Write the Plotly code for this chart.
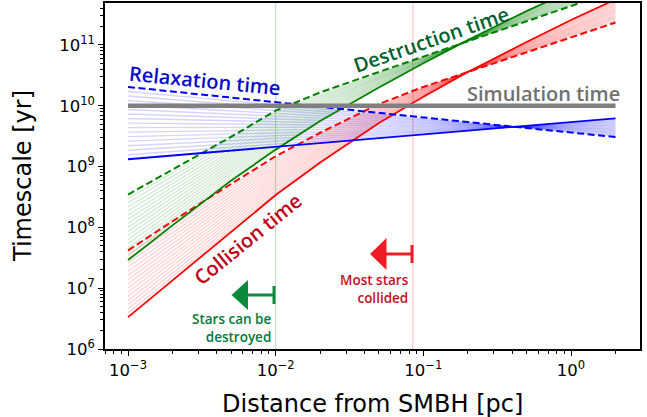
import plotly.graph_objects as go

# ---------------- data ----------------
distance_pc = [0.001, 0.002, 0.005, 0.01, 0.02, 0.05, 0.1, 0.2, 0.5, 1.0, 2.0]

relax_solid = [1.32e9, 1.52e9, 1.83e9, 2.11e9, 2.43e9, 2.93e9, 3.37e9, 3.88e9, 4.69e9, 5.40e9, 6.21e9]
relax_dashed = [2.04e10, 1.72e10, 1.37e10, 1.15e10, 9.7e9, 7.7e9, 6.5e9, 5.4e9, 4.3e9, 3.6e9, 3.06e9]

destr_solid = [2.9e7, 1.08e8, 5.9e8, 1.9e9, 5.6e9, 2.0e10, 5.0e10, 1.2e11, 3.6e11, 8.0e11, 1.7e12]
destr_dashed = [3.47e8, 8.9e8, 3.1e9, 8.3e9, 1.66e10, 3.6e10, 6.5e10, 1.15e11, 2.45e11, 4.4e11, 7.8e11]

coll_solid = [3.35e6, 1.34e7, 8.4e7, 3.4e8, 1.17e9, 5.2e9, 1.41e10, 3.6e10, 1.12e11, 2.57e11, 5.6e11]
coll_dashed = [4.2e7, 1.26e8, 5.2e8, 1.48e9, 3.6e9, 1.07e10, 2.04e10, 3.6e10, 7.6e10, 1.32e11, 2.34e11]

sim_x = [0.001, 2.0]
sim_time = [1e10, 1e10]

destroy_limit_pc = 0.01
collide_limit_pc = 0.085

x_tickvals = [1e-3, 1e-2, 1e-1, 1e0]
x_ticktext = ["10<sup>−3</sup>", "10<sup>−2</sup>", "10<sup>−1</sup>", "10<sup>0</sup>"]
y_tickvals = [1e6, 1e7, 1e8, 1e9, 1e10, 1e11]
y_ticktext = ["10<sup>6</sup>", "10<sup>7</sup>", "10<sup>8</sup>", "10<sup>9</sup>",
              "10<sup>10</sup>", "10<sup>11</sup>"]

# ---------------- layout geometry ----------------
W, H = 647, 417
L, R, T, B = 105, 7, 3, 68
PW, PH = W - L - R, H - T - B


def px(xp):
    return (xp - L) / PW


def py(yp):
    return (H - B - yp) / PH


fig = go.Figure()

# band shading: thin translucent curves between the two bounding series
N_SHADE = 15


def shade(lo, hi, color):
    for i in range(1, N_SHADE + 1):
        f = i / (N_SHADE + 1)
        ys = [a ** (1 - f) * b ** f for a, b in zip(lo, hi)]
        fig.add_trace(go.Scatter(x=distance_pc, y=ys, mode="lines",
                                 line=dict(color=color, width=1.4),
                                 hoverinfo="skip", showlegend=False))


shade(coll_solid, coll_dashed, "rgba(255,0,0,0.17)")
shade(destr_solid, destr_dashed, "rgba(0,128,0,0.17)")
shade(relax_solid, relax_dashed, "rgba(0,0,255,0.17)")

DASH = "7px,3.5px"


def line(y, color, dash=None, width=2):
    fig.add_trace(go.Scatter(x=distance_pc, y=y, mode="lines",
                             line=dict(color=color, width=width, dash=dash),
                             showlegend=False))


line(coll_solid, "#ff0000", width=1.8)
line(coll_dashed, "#ff0000", DASH)
line(destr_solid, "#008000", width=1.8)
line(destr_dashed, "#008000", DASH)
line(relax_solid, "#0000ff", width=1.8)
line(relax_dashed, "#0000ff", DASH)

fig.add_trace(go.Scatter(x=sim_x, y=sim_time, mode="lines",
                         line=dict(color="#808080", width=4.5), showlegend=False))

shapes = [
    dict(type="line", xref="x", yref="paper", x0=destroy_limit_pc, x1=destroy_limit_pc,
         y0=0, y1=1, line=dict(color="rgba(0,128,0,0.28)", width=1), layer="below"),
    dict(type="line", xref="x", yref="paper", x0=collide_limit_pc, x1=collide_limit_pc,
         y0=0, y1=1, line=dict(color="rgba(255,0,0,0.28)", width=1), layer="below"),
]


def arrow(tip_x, base_x, y, half_h, end_x, bar_half, color):
    shapes.append(dict(type="path", xref="paper", yref="paper",
                       path=f"M {px(tip_x)},{py(y)} L {px(base_x)},{py(y - half_h)} "
                            f"L {px(base_x)},{py(y + half_h)} Z",
                       fillcolor=color, line=dict(color=color, width=0)))
    shapes.append(dict(type="line", xref="paper", yref="paper",
                       x0=px(base_x - 2), x1=px(end_x), y0=py(y), y1=py(y),
                       line=dict(color=color, width=3)))
    shapes.append(dict(type="line", xref="paper", yref="paper",
                       x0=px(end_x), x1=px(end_x), y0=py(y - bar_half), y1=py(y + bar_half),
                       line=dict(color=color, width=3)))


arrow(231.5, 248, 295, 15, 274, 9, "#0b8a3e")
arrow(370, 386.5, 254, 16, 412, 9, "#ee1c25")

LABEL_FONT = "Open Sans"
annotations = [
    dict(text="Relaxation time", x=px(205), y=py(80), textangle=5.6,
         font=dict(family=LABEL_FONT, size=20, color="#0a0ac8", weight=600)),
    dict(text="Destruction time", x=px(431), y=py(40), textangle=-19,
         font=dict(family=LABEL_FONT, size=20, color="#006030", weight=600)),
    dict(text="Simulation time", x=px(543), y=py(93), textangle=0,
         font=dict(family=LABEL_FONT, size=20, color="#707070", weight=600)),
    dict(text="Collision time", x=px(247), y=py(239), textangle=-39,
         font=dict(family=LABEL_FONT, size=20, color="#c00018", weight=600)),
    dict(text="Stars can be<br>destroyed", x=px(274), y=py(328), xanchor="right",
         align="right",
         font=dict(family=LABEL_FONT, size=13.5, color="#007a3d", weight=600)),
    dict(text="Most stars<br>collided", x=px(411), y=py(289), xanchor="right",
         align="right",
         font=dict(family=LABEL_FONT, size=13.5, color="#c0102a", weight=600)),
    dict(text="Timescale [yr]", x=px(23), y=0.5, textangle=-90,
         font=dict(family="DejaVu Sans", size=24, color="#000000")),
    dict(text="Distance from SMBH [pc]", x=0.5, y=py(404),
         font=dict(family="DejaVu Sans", size=24, color="#000000")),
]
for a in annotations:
    a.update(xref="paper", yref="paper", showarrow=False)
    a.setdefault("xanchor", "center")
    a.setdefault("yanchor", "middle")

axis_common = dict(type="log", showline=True, mirror=True, linecolor="#000000",
                   linewidth=1.5, ticks="outside", ticklen=5, tickwidth=1.2,
                   tickcolor="#000000", showgrid=False, zeroline=False,
                   tickfont=dict(family="DejaVu Sans", size=16.5, color="#000000"),
                   minor=dict(ticks="outside", ticklen=3, tickwidth=0.8,
                              tickcolor="#000000", dtick="D1", showgrid=False))

fig.update_layout(
    width=W, height=H,
    margin=dict(l=L, r=R, t=T, b=B, autoexpand=False),
    paper_bgcolor="white", plot_bgcolor="white",
    showlegend=False,
    shapes=shapes, annotations=annotations,
    xaxis=dict(axis_common, range=[-3.156, 0.467], tickvals=x_tickvals, ticktext=x_ticktext),
    yaxis=dict(axis_common, range=[6.0, 11.69], tickvals=y_tickvals, ticktext=y_ticktext),
)

fig.write_html(
    "out.html",
    config={"displayModeBar": False},
    post_script="document.body.style.margin='0';document.body.style.overflow='hidden';",
)
